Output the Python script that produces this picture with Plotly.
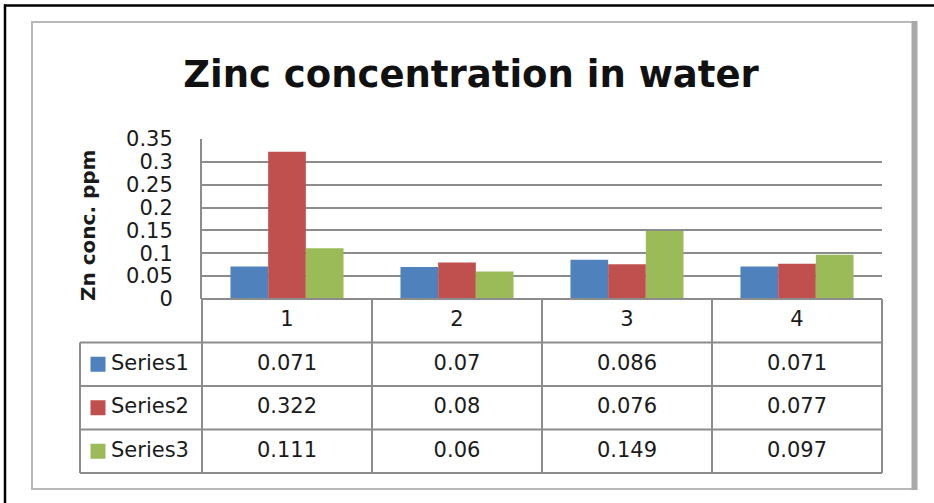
import plotly.graph_objects as go

# ---- data -------------------------------------------------------------
categories = ["1", "2", "3", "4"]
series_names = ["Series1", "Series2", "Series3"]
series1 = [0.071, 0.07, 0.086, 0.071]
series2 = [0.322, 0.08, 0.076, 0.077]
series3 = [0.111, 0.06, 0.149, 0.097]
y_ticks = [0, 0.05, 0.1, 0.15, 0.2, 0.25, 0.3, 0.35]

series_values = [series1, series2, series3]
series_colors = ["#4F81BD", "#C0504D", "#9BBB59"]

# ---- page geometry (pixels) -------------------------------------------
W, H = 934, 503
PLOT_L, PLOT_R, PLOT_T, PLOT_B = 202, 882, 139, 299
TAB_L, TAB_B = 80, 473
PAD = 4
GRID = "#8c8c8c"
FONT = "DejaVu Sans"


def fx(px):
    return px / W


def fy(py):
    return 1 - py / H


n_cat = len(categories)
n_rows = len(series_names) + 1
col_px = (PLOT_R - PLOT_L) / n_cat
row_px = (TAB_B - PLOT_B) / n_rows
legend_left = -0.5 - (PLOT_L - TAB_L) / col_px

fig = go.Figure()

# ---- bars --------------------------------------------------------------
for name, vals, color in zip(series_names, series_values, series_colors):
    fig.add_trace(go.Bar(
        x=list(range(n_cat)), y=vals, name=name,
        marker=dict(color=color, line=dict(width=0)),
        xaxis="x", yaxis="y", showlegend=False, hoverinfo="skip",
    ))

# ---- data table underneath the chart ----------------------------------
shapes = []
line_style = dict(color=GRID, width=2)
# horizontal rules
shapes.append(dict(type="line", xref="x2", yref="y2", x0=-0.5, x1=n_cat - 0.5,
                   y0=0, y1=0, line=line_style))
for r in range(1, n_rows + 1):
    shapes.append(dict(type="line", xref="x2", yref="y2", x0=legend_left,
                       x1=n_cat - 0.5, y0=r, y1=r, line=line_style))
# vertical rules
shapes.append(dict(type="line", xref="x2", yref="y2", x0=legend_left,
                   x1=legend_left, y0=1, y1=n_rows, line=line_style))
for c in range(n_cat + 1):
    shapes.append(dict(type="line", xref="x2", yref="y2", x0=c - 0.5,
                       x1=c - 0.5, y0=0, y1=n_rows, line=line_style))

# category header row
fig.add_trace(go.Scatter(
    x=list(range(n_cat)), y=[0.5] * n_cat, text=categories, mode="text",
    textfont=dict(family=FONT, size=21, color="#1a1a1a"),
    xaxis="x2", yaxis="y2", showlegend=False, hoverinfo="skip",
))
# value cells
for r, vals in enumerate(series_values):
    fig.add_trace(go.Scatter(
        x=list(range(n_cat)), y=[r + 1.5] * n_cat,
        text=[f"{v:g}" for v in vals], mode="text",
        textfont=dict(family=FONT, size=21, color="#1a1a1a"),
        xaxis="x2", yaxis="y2", showlegend=False, hoverinfo="skip",
    ))
# legend keys with series names
key_x = -0.5 - (PLOT_L - 98) / col_px
name_x = -0.5 - (PLOT_L - 111) / col_px
for r, (name, color) in enumerate(zip(series_names, series_colors)):
    fig.add_trace(go.Scatter(
        x=[key_x], y=[r + 1.5], mode="markers",
        marker=dict(symbol="square", size=15, color=color),
        xaxis="x2", yaxis="y2", showlegend=False, hoverinfo="skip",
    ))
    fig.add_trace(go.Scatter(
        x=[name_x], y=[r + 1.5], mode="text", text=[name],
        textposition="middle right",
        textfont=dict(family=FONT, size=21, color="#1a1a1a"),
        xaxis="x2", yaxis="y2", showlegend=False, hoverinfo="skip",
    ))

# ---- chart frame --------------------------------------------------------
shapes += [
    dict(type="line", xref="paper", yref="paper", x0=fx(4), x1=fx(934),
         y0=fy(5.5), y1=fy(5.5), line=dict(color="#000000", width=2.5)),
    dict(type="line", xref="paper", yref="paper", x0=fx(5), x1=fx(5),
         y0=fy(4.5), y1=fy(503), line=dict(color="#000000", width=2.5)),
    dict(type="rect", xref="paper", yref="paper", x0=fx(32), x1=fx(913),
         y0=fy(22), y1=fy(489), line=dict(color="#b8b8b8", width=2)),
    dict(type="line", xref="paper", yref="paper", x0=fx(914.5), x1=fx(914.5),
         y0=fy(21), y1=fy(490), line=dict(color="#a8a8a8", width=6)),
]

fig.add_annotation(
    text="<b>Zn conc. ppm</b>", textangle=-90, xref="paper", yref="paper",
    x=fx(88), y=fy(226), xanchor="center", yanchor="middle", showarrow=False,
    font=dict(family=FONT, size=20, color="#1a1a1a"),
)

fig.update_layout(
    width=W, height=H,
    margin=dict(l=0, r=0, t=0, b=0, autoexpand=False),
    paper_bgcolor="white", plot_bgcolor="rgba(0,0,0,0)",
    barmode="group", bargap=0.335, bargroupgap=0,
    title=dict(text="Zinc concentration in water", x=fx(471), y=fy(74.5),
               xanchor="center", yanchor="middle", xref="paper", yref="paper",
               font=dict(family=FONT, size=37, color="#111111", weight="bold")),
    xaxis=dict(domain=[fx(PLOT_L), fx(PLOT_R)], range=[-0.5, n_cat - 0.5],
               showticklabels=False, showgrid=False, zeroline=False,
               showline=False, ticks="", fixedrange=True, automargin=False),
    yaxis=dict(domain=[fy(PLOT_B), fy(PLOT_T)], range=[0, max(y_ticks)],
               tickvals=y_ticks, ticktext=[f"{t:g}" for t in y_ticks],
               showgrid=True, gridcolor=GRID, gridwidth=2,
               showline=True, linecolor=GRID, linewidth=2,
               zeroline=False, ticks="", ticklabelstandoff=23,
               tickfont=dict(family=FONT, size=21, color="#1a1a1a"),
               fixedrange=True, automargin=False),
    xaxis2=dict(domain=[fx(TAB_L - PAD), fx(PLOT_R + PAD)],
                range=[legend_left - PAD / col_px, n_cat - 0.5 + PAD / col_px],
                visible=False, fixedrange=True, automargin=False),
    yaxis2=dict(domain=[fy(TAB_B + PAD), fy(PLOT_B - PAD)],
                range=[n_rows + PAD / row_px, -PAD / row_px],
                visible=False, fixedrange=True, automargin=False),
    shapes=shapes,
)

fig.write_html("out.html")
